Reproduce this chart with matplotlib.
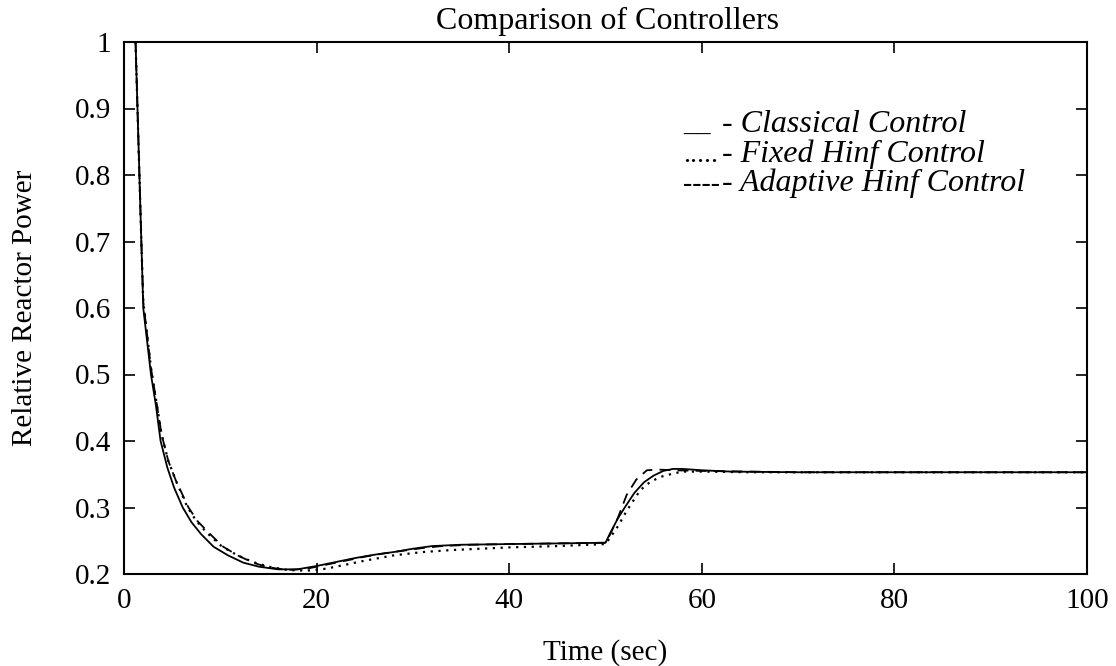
import matplotlib
matplotlib.use("Agg")
import matplotlib.pyplot as plt

# classical control (solid)
t_classical = [1.2, 1.4, 1.6, 1.8, 2.0, 2.4, 2.8, 3.3, 3.8, 4.5, 5.2, 6.1, 7.0, 8.0, 9.3,
               10.8, 12.4, 14.0, 16.0, 18.0, 20.0, 22.0, 24.0, 26.0, 28.0, 30.0, 32.0,
               35.0, 40.0, 45.0, 50.0, 50.5, 51.3, 52.0, 53.0, 54.0, 55.0, 56.0, 57.0,
               58.0, 60.0, 63.0, 70.0, 80.0, 90.0, 100.0]
p_classical = [1.0, 0.9, 0.8, 0.7, 0.6, 0.55, 0.5, 0.455, 0.4, 0.36, 0.33, 0.30, 0.278,
               0.26, 0.241, 0.228, 0.217, 0.211, 0.207, 0.207, 0.212, 0.218, 0.224, 0.229,
               0.233, 0.238, 0.242, 0.244, 0.245, 0.246, 0.247, 0.262, 0.284, 0.300, 0.322,
               0.338, 0.348, 0.355, 0.358, 0.358, 0.356, 0.354, 0.353, 0.353, 0.353, 0.353]

# fixed Hinf control (dotted)
t_fixed = [1.2, 1.4, 1.6, 1.8, 2.0, 2.4, 2.8, 3.3, 3.9, 4.6, 5.4, 6.6, 7.5, 8.6, 10.2,
           11.8, 13.4, 15.0, 17.0, 19.0, 21.0, 23.0, 25.0, 28.0, 31.0, 34.0, 40.0, 45.0,
           50.0, 50.5, 51.3, 52.2, 53.6, 54.6, 55.7, 57.0, 58.0, 60.0, 65.0, 70.0, 80.0,
           90.0, 100.0]
p_fixed = [1.0, 0.9, 0.8, 0.7, 0.61, 0.56, 0.51, 0.465, 0.41, 0.37, 0.34, 0.30, 0.28,
           0.262, 0.241, 0.228, 0.218, 0.211, 0.206, 0.205, 0.208, 0.214, 0.220, 0.228,
           0.233, 0.236, 0.240, 0.242, 0.245, 0.255, 0.272, 0.295, 0.326, 0.338, 0.346,
           0.351, 0.354, 0.354, 0.353, 0.353, 0.353, 0.353, 0.353]

# adaptive Hinf control (dashed)
t_adaptive = [1.2, 1.4, 1.6, 1.8, 2.0, 2.4, 2.8, 3.3, 3.9, 4.6, 5.4, 6.7, 7.6, 8.8, 10.3,
              11.8, 13.4, 15.0, 17.0, 19.0, 21.0, 23.0, 25.0, 27.0, 29.0, 31.0, 33.0,
              36.0, 40.0, 45.0, 50.0, 50.5, 51.3, 52.2, 53.2, 54.3, 55.5, 57.0, 60.0,
              65.0, 70.0, 80.0, 90.0, 100.0]
p_adaptive = [1.0, 0.9, 0.8, 0.7, 0.61, 0.56, 0.51, 0.465, 0.41, 0.37, 0.34, 0.30, 0.28,
              0.262, 0.241, 0.228, 0.217, 0.210, 0.206, 0.208, 0.214, 0.220, 0.226, 0.231,
              0.235, 0.239, 0.242, 0.244, 0.245, 0.246, 0.247, 0.26, 0.285, 0.319, 0.342,
              0.356, 0.357, 0.356, 0.355, 0.354, 0.353, 0.353, 0.353, 0.353]

xticks = [0, 20, 40, 60, 80, 100]
yticks = [0.2, 0.3, 0.4, 0.5, 0.6, 0.7, 0.8, 0.9, 1.0]
yticklabels = ["0.2", "0.3", "0.4", "0.5", "0.6", "0.7", "0.8", "0.9", "1"]

legend_marks = ["__", ".....", "----"]
legend_names = ["- Classical Control", "- Fixed Hinf Control", "- Adaptive Hinf Control"]

plt.rcParams['font.family'] = ['Liberation Serif', 'DejaVu Serif']

W, H = 1116, 666
fig = plt.figure(figsize=(W / 100, H / 100), dpi=100)
ax = fig.add_axes([124 / W, 1 - 574 / H, (1087 - 124) / W, (574 - 42) / H])

ax.plot(t_classical, p_classical, color='black', lw=1.3, linestyle='-')
ax.plot(t_fixed, p_fixed, color='black', lw=1.6, linestyle=(0, (1, 2.5)))
ax.plot(t_adaptive, p_adaptive, color='black', lw=1.3, linestyle=(0, (6, 4)))

ax.set_xlim(0, 100)
ax.set_ylim(0.2, 1.0)
ax.set_xticks(xticks)
ax.set_yticks(yticks)
ax.set_yticklabels(yticklabels)
ax.tick_params(direction='in', length=8, width=1.2, top=True, right=True,
               labelsize=21)
ax.tick_params(axis='y', pad=9)
ax.tick_params(axis='x', pad=10)
for s in ax.spines.values():
    s.set_linewidth(1.5)

fig.text(608 / W, 1 - 29 / H, "Comparison of Controllers", fontsize=23,
         ha='center', va='baseline')
fig.text(605 / W, 1 - 660 / H, "Time (sec)", fontsize=21, ha='center', va='baseline')
fig.text(25 / W, 1 - 308 / H, "Relative Reactor Power", fontsize=21, rotation=90,
         ha='center', va='center')

baselines = [132, 162, 191]
for mark, name, yb in zip(legend_marks, legend_names, baselines):
    fig.text(683 / W, 1 - yb / H, mark, fontsize=20, ha='left', va='baseline')
    fig.text(722 / W, 1 - yb / H, name, fontsize=23, style='italic',
             ha='left', va='baseline')

fig.savefig("out.png", dpi=100)
